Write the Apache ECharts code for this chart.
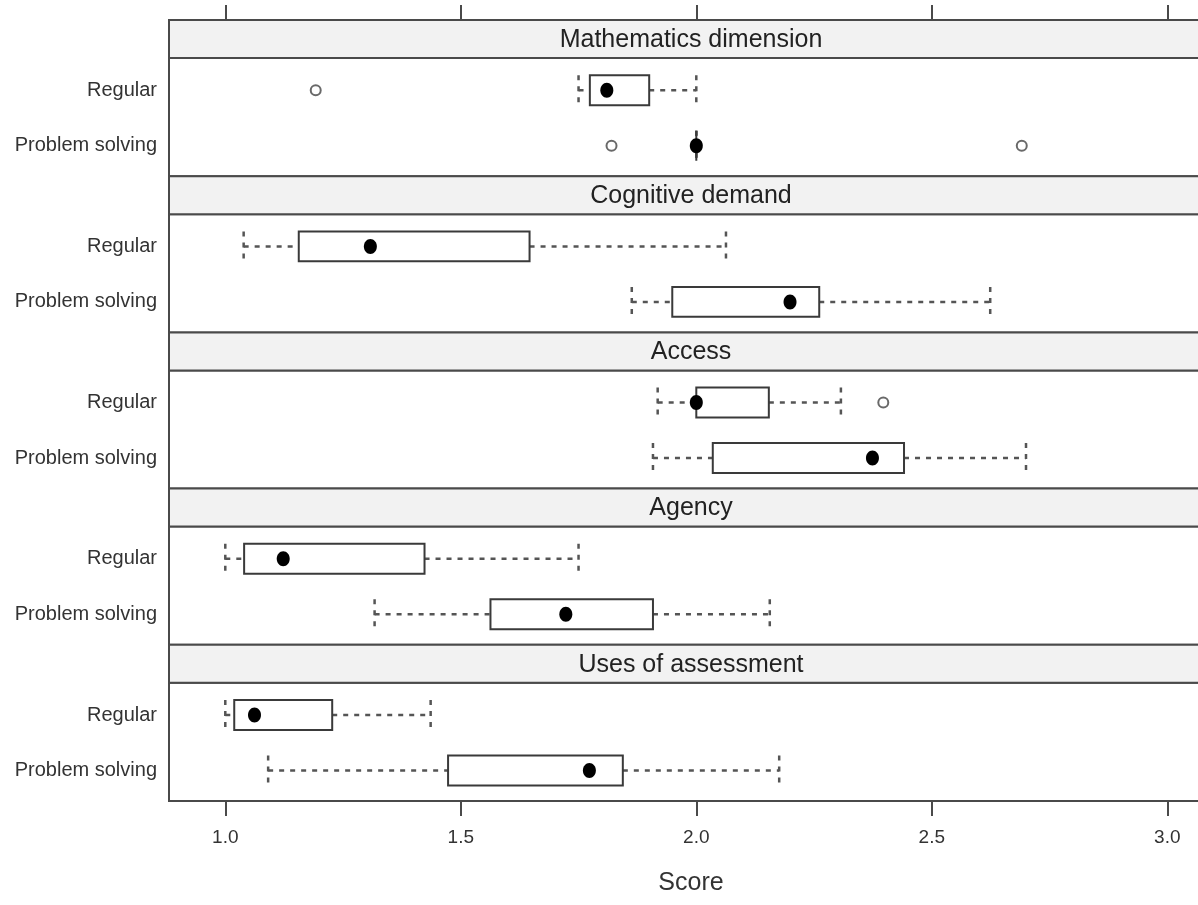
<!DOCTYPE html>
<html>
<head>
<meta charset="utf-8">
<script src="https://cdn.jsdelivr.net/npm/echarts@6/dist/echarts.min.js"></script>
<style>
html,body{margin:0;padding:0;background:#fff;}
#chart{width:1198px;height:905px;}
</style>
</head>
<body>
<div id="chart"></div>
<script>
// ---- data ----
const panels = ['Mathematics dimension', 'Cognitive demand', 'Access', 'Agency', 'Uses of assessment'];
const groups = ['Regular', 'Problem solving'];
const groupPositions = [1, 2];
// per panel: [Regular, Problem solving]
const lowerWhisker = [[1.75, 2.0], [1.039, 1.863], [1.918, 1.908], [1.0, 1.317], [1.0, 1.091]];
const quartile1    = [[1.774, 2.0], [1.156, 1.949], [2.0, 2.035], [1.040, 1.563], [1.019, 1.473]];
const medians      = [[1.810, 2.0], [1.308, 2.199], [2.0, 2.374], [1.123, 1.723], [1.062, 1.773]];
const quartile3    = [[1.90, 2.0], [1.646, 2.261], [2.154, 2.441], [1.423, 1.908], [1.227, 1.844]];
const upperWhisker = [[2.0, 2.0], [2.063, 2.624], [2.307, 2.700], [1.750, 2.156], [1.436, 2.176]];
const outliersRegular = [[1.192], [], [2.397], [], []];
const outliersProblem = [[1.820, 2.691], [], [], [], []];
const tickValues = [1.0, 1.5, 2.0, 2.5, 3.0];
const xTitle = 'Score';

// ---- layout ----
const FONT = "'Liberation Sans', Arial, sans-serif";
const LEFT = 169, WIDTH = 1044, TOP0 = 20, PITCH = 156.2, STRIP = 38, PANEL = 118.2;
const XMIN = 0.8805, XMAX = 3.097;
const BORDER = '#4a4a4a';

const grids = [], xAxes = [], yAxes = [], series = [], graphics = [];

panels.forEach((name, i) => {
  const stripTop = TOP0 + i * PITCH;
  grids.push({
    left: LEFT, width: WIDTH, top: stripTop + STRIP, height: PANEL,
    containLabel: false, outerBoundsMode: 'none',
    show: true, borderColor: BORDER, borderWidth: 2, backgroundColor: '#fff'
  });
  const last = i === panels.length - 1;
  const first = i === 0;
  const xa = {
    type: 'value', gridIndex: i, min: XMIN, max: XMAX,
    splitLine: { show: false },
    axisLine: { show: false },
    axisTick: { show: false },
    axisLabel: { show: false }
  };
  if (first) {
    xa.position = 'top';
    xa.offset = STRIP;
    xa.axisTick = { show: true, length: 15, lineStyle: { color: BORDER, width: 2 }, customValues: tickValues };
  }
  if (last) {
    xa.position = 'bottom';
    xa.axisTick = { show: true, length: 15, lineStyle: { color: BORDER, width: 2 }, customValues: tickValues };
    xa.axisLabel = {
      show: true, customValues: tickValues, formatter: v => Number(v).toFixed(1),
      fontSize: 19, fontFamily: FONT, color: '#333', margin: 27
    };
    xa.name = xTitle;
    xa.nameLocation = 'middle';
    xa.nameGap = 70;
    xa.nameTextStyle = { fontSize: 25, fontFamily: FONT, color: '#333' };
  }
  xAxes.push(xa);
  yAxes.push({
    type: 'value', gridIndex: i, min: 0.42, max: 2.55, inverse: true,
    axisLine: { show: false }, axisTick: { show: false }, splitLine: { show: false },
    axisLabel: {
      customValues: groupPositions,
      formatter: v => groups[Math.round(v) - 1],
      fontSize: 20, fontFamily: FONT, color: '#333', margin: 12
    }
  });

  const boxData = groups.map((g, k) => [groupPositions[k], lowerWhisker[i][k], quartile1[i][k], medians[i][k], quartile3[i][k], upperWhisker[i][k]]);
  series.push({
    type: 'custom', xAxisIndex: i, yAxisIndex: i, data: boxData, clip: false,
    encode: { x: [1, 2, 3, 4, 5], y: 0 },
    renderItem: function (params, api) {
      const pos = api.value(0);
      const pLo = api.coord([api.value(1), pos]);
      const pQ1 = api.coord([api.value(2), pos]);
      const pMed = api.coord([api.value(3), pos]);
      const pQ3 = api.coord([api.value(4), pos]);
      const pHi = api.coord([api.value(5), pos]);
      const unit = Math.abs(api.size([0, 1])[1]);
      const h = unit * 0.54;
      const y = pMed[1];
      const dash = { stroke: '#555', lineWidth: 2.5, lineDash: [5, 6] };
      return {
        type: 'group',
        children: [
          { type: 'line', shape: { x1: pLo[0], y1: y, x2: pQ1[0], y2: y }, style: dash },
          { type: 'line', shape: { x1: pQ3[0], y1: y, x2: pHi[0], y2: y }, style: dash },
          { type: 'line', shape: { x1: pLo[0], y1: y - h / 2, x2: pLo[0], y2: y + h / 2 }, style: dash },
          { type: 'line', shape: { x1: pHi[0], y1: y - h / 2, x2: pHi[0], y2: y + h / 2 }, style: dash },
          { type: 'rect', shape: { x: pQ1[0], y: y - h / 2, width: pQ3[0] - pQ1[0], height: h },
            style: { fill: '#fff', stroke: '#3a3a3a', lineWidth: 2 } },
          { type: 'ellipse', shape: { cx: pMed[0], cy: y, rx: 6.5, ry: 7.5 }, style: { fill: '#000' } }
        ]
      };
    }
  });
  const outData = outliersRegular[i].map(v => [v, groupPositions[0]]).concat(outliersProblem[i].map(v => [v, groupPositions[1]]));
  series.push({
    type: 'scatter', xAxisIndex: i, yAxisIndex: i, data: outData,
    symbol: 'circle', symbolSize: 10,
    itemStyle: { color: '#fff', borderColor: '#444', borderWidth: 2 }
  });

  graphics.push({
    type: 'rect', shape: { x: LEFT, y: stripTop, width: WIDTH, height: STRIP },
    style: { fill: '#f2f2f2', stroke: BORDER, lineWidth: 2 }, z: 10
  });
  graphics.push({
    type: 'text', x: LEFT + WIDTH / 2, y: stripTop + STRIP / 2 + 1, z: 11,
    style: { text: name, fontSize: 25, fontFamily: FONT, fill: '#222', align: 'center', verticalAlign: 'middle' }
  });
});

const chart = echarts.init(document.getElementById('chart'), null, { renderer: 'canvas' });
chart.setOption({
  animation: false,
  backgroundColor: '#fff',
  grid: grids,
  xAxis: xAxes,
  yAxis: yAxes,
  series: series,
  graphic: graphics
});
</script>
</body>
</html>
